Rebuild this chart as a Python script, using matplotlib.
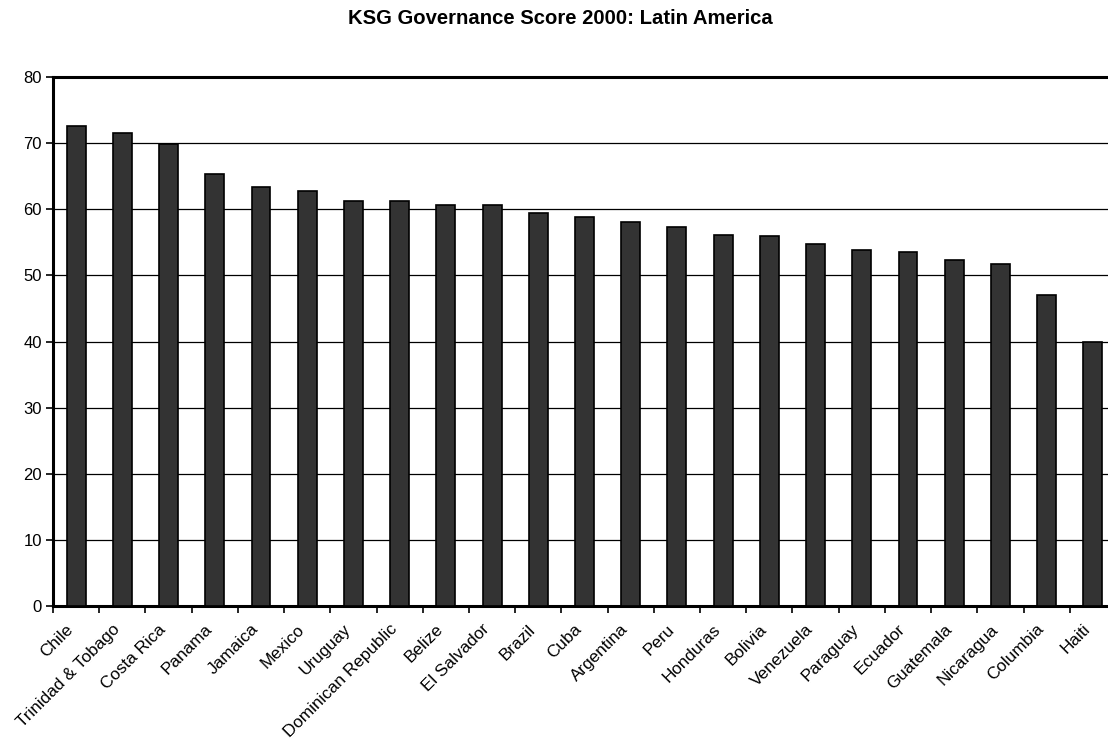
import matplotlib
matplotlib.use("Agg")
import matplotlib.pyplot as plt
import matplotlib.transforms as mtransforms
import numpy as np

countries = ["Chile", "Trinidad & Tobago", "Costa Rica", "Panama", "Jamaica",
             "Mexico", "Uruguay", "Dominican Republic", "Belize", "El Salvador",
             "Brazil", "Cuba", "Argentina", "Peru", "Honduras", "Bolivia",
             "Venezuela", "Paraguay", "Ecuador", "Guatemala", "Nicaragua",
             "Columbia", "Haiti"]
scores = [72.6, 71.6, 69.9, 65.4, 63.4, 62.7, 61.3, 61.2, 60.7, 60.7,
          59.4, 58.8, 58.0, 57.3, 56.1, 55.9, 54.8, 53.8, 53.5, 52.3,
          51.7, 47.0, 39.9]
yticks = [0, 10, 20, 30, 40, 50, 60, 70, 80]

plt.rcParams['font.family'] = ['Liberation Sans', 'DejaVu Sans']

fig = plt.figure(figsize=(11.08, 7.4), dpi=100)
# the plot area runs a little past the right edge of the picture
ax = fig.add_axes([53 / 1108, 1 - 606 / 740, 1063 / 1108, 529 / 740])

x = np.arange(len(countries))
ax.bar(x, scores, width=0.41, color="#333333", edgecolor="black",
       linewidth=1.2, zorder=3)

ax.set_xlim(-0.5, len(countries) - 0.5)
ax.set_ylim(0, 80)
ax.set_yticks(yticks)
ax.yaxis.grid(True, color="black", linewidth=0.9, zorder=0)

# ticks between categories, labels centered under bars
ax.set_xticks(np.arange(len(countries) + 1) - 0.5)
ax.set_xticklabels([])
ax.set_xticks(x, minor=True)
ax.set_xticklabels(countries, minor=True, rotation=45, ha="right", va="center",
                   rotation_mode="anchor", fontsize=12.3)
ax.tick_params(axis="x", which="minor", length=0, pad=15)
ax.tick_params(axis="x", which="major", direction="out", length=5, width=1.2)
ax.tick_params(axis="y", direction="out", length=5, width=1.2,
               labelsize=12, pad=3)

shift = mtransforms.ScaledTranslation(-5 / 100, 0, fig.dpi_scale_trans)
for lab in ax.get_xticklabels(minor=True):
    lab.set_transform(lab.get_transform() + shift)

for s in ax.spines.values():
    s.set_linewidth(2.2)

fig.text(560 / 1108, 1 - 18 / 740, "KSG Governance Score 2000: Latin America",
         ha="center", va="center", fontsize=14.6, fontweight="bold")

fig.savefig("out.png", dpi=100)
